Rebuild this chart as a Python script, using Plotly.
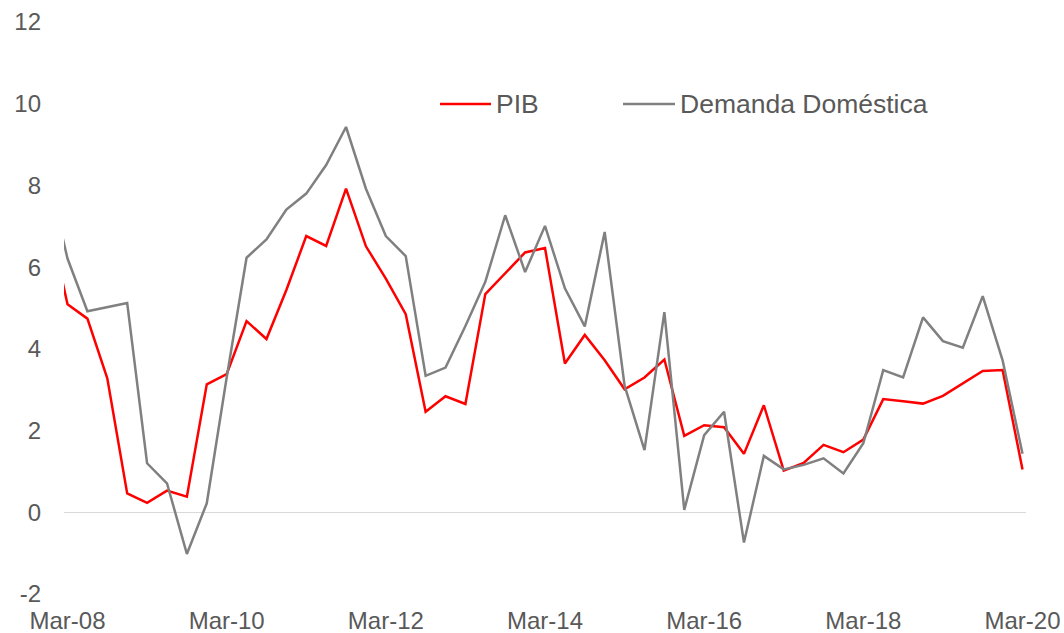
import plotly.graph_objects as go

# Quarterly categories (Dec-07 is only partially visible at the left edge)
quarters = ["Dec-07"] + [f"{m}-{y:02d}" for y in range(8, 21) for m in ["Mar", "Jun", "Sep", "Dec"]][:49]

pib = [7.3,
       5.09, 4.74, 3.28, 0.46, 0.23, 0.53, 0.38, 3.13, 3.38, 4.68,
       4.24, 5.44, 6.76, 6.52, 7.92, 6.51, 5.72, 4.85, 2.46, 2.84,
       2.65, 5.34, 5.85, 6.36, 6.47, 3.64, 4.34, 3.72, 3.01, 3.30,
       3.74, 1.87, 2.13, 2.08, 1.43, 2.62, 1.02, 1.21, 1.65, 1.47,
       1.78, 2.77, 2.72, 2.66, 2.85, 3.15, 3.46, 3.48, 1.05]

demanda = [8.3,
           6.21, 4.92, 5.02, 5.12, 1.20, 0.71, -1.02, 0.22, 3.30, 6.23,
           6.68, 7.41, 7.80, 8.50, 9.43, 7.92, 6.76, 6.27, 3.34, 3.54,
           4.56, 5.64, 7.27, 5.88, 7.01, 5.48, 4.55, 6.86, 3.10, 1.52,
           4.90, 0.06, 1.89, 2.46, -0.74, 1.38, 1.05, 1.16, 1.32, 0.95,
           1.69, 3.48, 3.30, 4.77, 4.19, 4.03, 5.29, 3.72, 1.43]

x_ticks = ["Mar-08", "Mar-10", "Mar-12", "Mar-14", "Mar-16", "Mar-18", "Mar-20"]
y_ticks = [-2, 0, 2, 4, 6, 8, 10, 12]
y_labels = ["-2", "0", "2", "4", "6", "8", "10", "12"]

RED = "#FF0000"
GRAY = "#808080"
TXT = "#595959"
FONT = "Liberation Sans, Arial, sans-serif"

fig = go.Figure()
fig.add_trace(go.Scatter(x=quarters, y=pib, mode="lines", name="PIB",
                         line=dict(color=RED, width=2.5), showlegend=False))
fig.add_trace(go.Scatter(x=quarters, y=demanda, mode="lines", name="Demanda Doméstica",
                         line=dict(color=GRAY, width=2.5), showlegend=False))

W, H = 1064, 633
ML, MR, MT, MB = 64, 38, 22, 39
pw, ph = W - ML - MR, H - MT - MB


def px(xp):
    return (xp - ML) / pw


def py(yp):
    return (H - MB - yp) / ph


# Custom legend (line samples + text)
ly = py(104)
fig.add_shape(type="line", xref="paper", yref="paper", x0=px(440), x1=px(491), y0=ly, y1=ly,
              line=dict(color=RED, width=2.5))
fig.add_shape(type="line", xref="paper", yref="paper", x0=px(623), x1=px(675), y0=ly, y1=ly,
              line=dict(color=GRAY, width=2.5))
fig.add_annotation(xref="paper", yref="paper", x=px(494), y=ly, text="PIB", showarrow=False,
                   xanchor="left", yanchor="middle", font=dict(size=26.5, color=TXT, family=FONT))
fig.add_annotation(xref="paper", yref="paper", x=px(678), y=ly, text="Demanda Doméstica", showarrow=False,
                   xanchor="left", yanchor="middle", font=dict(size=26.5, color=TXT, family=FONT))

fig.update_layout(
    template="none",
    width=W, height=H,
    margin=dict(l=ML, r=MR, t=MT, b=MB, autoexpand=False),
    paper_bgcolor="white", plot_bgcolor="white",
    font=dict(family=FONT, size=24, color=TXT),
    xaxis=dict(type="category", categoryorder="array", categoryarray=quarters,
               range=[0.824, 49.176], tickvals=x_ticks, ticktext=x_ticks,
               showgrid=False, showline=False, zeroline=False, ticks="", automargin=False,
               tickfont=dict(size=24, color=TXT, family=FONT), ticklabelstandoff=10),
    yaxis=dict(range=[-2, 12], tickvals=y_ticks, ticktext=y_labels, showgrid=False, showline=False,
               zeroline=True, zerolinecolor="#d9d9d9", zerolinewidth=1.3, ticks="", automargin=False,
               tickfont=dict(size=24, color=TXT, family=FONT), ticklabelstandoff=22),
)

fig.write_html("out.html", config={"displayModeBar": False},
               post_script="document.body.style.margin='0';document.body.style.overflow='hidden';")
